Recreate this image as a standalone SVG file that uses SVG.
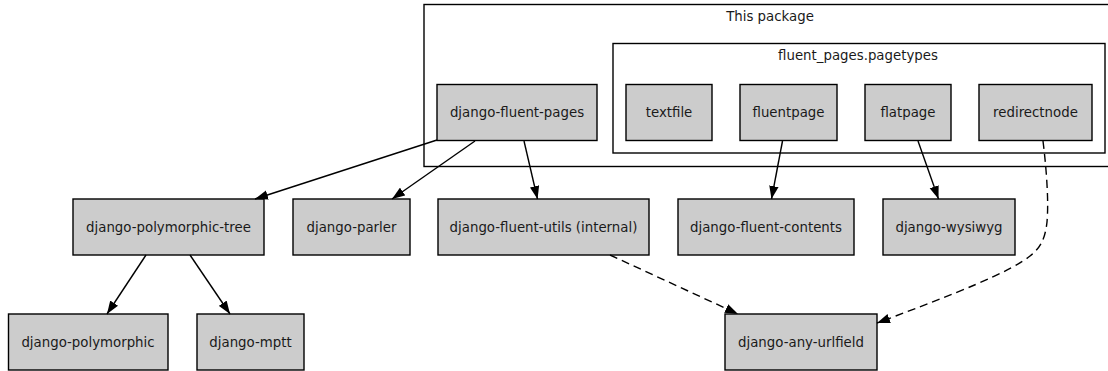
<svg xmlns="http://www.w3.org/2000/svg" width="1108" height="371" viewBox="0 0 1108 371">
<style>
.cluster{fill:#ffffff;stroke:#000;stroke-width:1.4}
.node rect{fill:#cccccc;stroke:#000;stroke-width:1.4}
text{font-family:"DejaVu Sans",sans-serif;font-size:13.33px;fill:#1a1a1a;text-anchor:middle}
.edge{fill:none;stroke:#000;stroke-width:1.4}
.dash{stroke-dasharray:8,5}
</style>
<defs>
<marker id="arr" markerUnits="userSpaceOnUse" markerWidth="14" markerHeight="10" refX="13" refY="4.75" orient="auto" viewBox="0 0 14 9.5">
<path d="M0,0 L13,4.75 L0,9.5 Z" fill="#000" stroke="none"/>
</marker>
</defs>
<rect width="1108" height="371" fill="#fff"/>
<g id="cluster-this-package">
<rect class="cluster" x="424" y="4.5" width="700" height="162"/>
<text x="770" y="21">This package</text>
</g>
<g id="cluster-pagetypes">
<rect class="cluster" x="613" y="43.5" width="492" height="109.5"/>
<text x="858" y="60">fluent_pages.pagetypes</text>
</g>
<g id="n-fluent-pages" class="node"><rect x="437" y="84.5" width="160" height="56"/><text x="517" y="117">django-fluent-pages</text></g>
<g id="n-textfile" class="node"><rect x="626" y="84.5" width="86" height="56"/><text x="669" y="117">textfile</text></g>
<g id="n-fluentpage" class="node"><rect x="740" y="84.5" width="97" height="56"/><text x="788.5" y="117">fluentpage</text></g>
<g id="n-flatpage" class="node"><rect x="865" y="84.5" width="86" height="56"/><text x="908" y="117">flatpage</text></g>
<g id="n-redirectnode" class="node"><rect x="979" y="84.5" width="113" height="56"/><text x="1035.5" y="117">redirectnode</text></g>
<g id="n-polymorphic-tree" class="node"><rect x="73" y="199" width="191" height="56"/><text x="168.5" y="232">django-polymorphic-tree</text></g>
<g id="n-parler" class="node"><rect x="293" y="199" width="117" height="56"/><text x="351.5" y="232">django-parler</text></g>
<g id="n-fluent-utils" class="node"><rect x="438" y="199" width="211" height="56"/><text x="543.5" y="232">django-fluent-utils (internal)</text></g>
<g id="n-fluent-contents" class="node"><rect x="678" y="199" width="176" height="56"/><text x="766" y="232">django-fluent-contents</text></g>
<g id="n-wysiwyg" class="node"><rect x="883" y="199" width="132" height="56"/><text x="949" y="232">django-wysiwyg</text></g>
<g id="n-polymorphic" class="node"><rect x="8.5" y="314" width="159.5" height="56"/><text x="88" y="347">django-polymorphic</text></g>
<g id="n-mptt" class="node"><rect x="197" y="314" width="107" height="56"/><text x="250.5" y="347">django-mptt</text></g>
<g id="n-any-urlfield" class="node"><rect x="725" y="314" width="152" height="56"/><text x="801" y="347">django-any-urlfield</text></g>
<g id="connectors">
<path class="edge" d="M437,140 L255,199" marker-end="url(#arr)"/>
<path class="edge" d="M475,141 L392,199" marker-end="url(#arr)"/>
<path class="edge" d="M524,141 L537.5,199" marker-end="url(#arr)"/>
<path class="edge" d="M782.5,141 L771.5,199" marker-end="url(#arr)"/>
<path class="edge" d="M918,141 L938.5,199" marker-end="url(#arr)"/>
<path class="edge dash" d="M610,255 L738,314" marker-end="url(#arr)"/>
<path class="edge dash" d="M1043,141 C1046,165 1049,200 1047,222 C1045,240 1040,248 1030,256 C1010,272 960,292 877,323" marker-end="url(#arr)"/>
<path class="edge" d="M146,255 L107,314" marker-end="url(#arr)"/>
<path class="edge" d="M190,255 L230,314" marker-end="url(#arr)"/>
</g>
</svg>
